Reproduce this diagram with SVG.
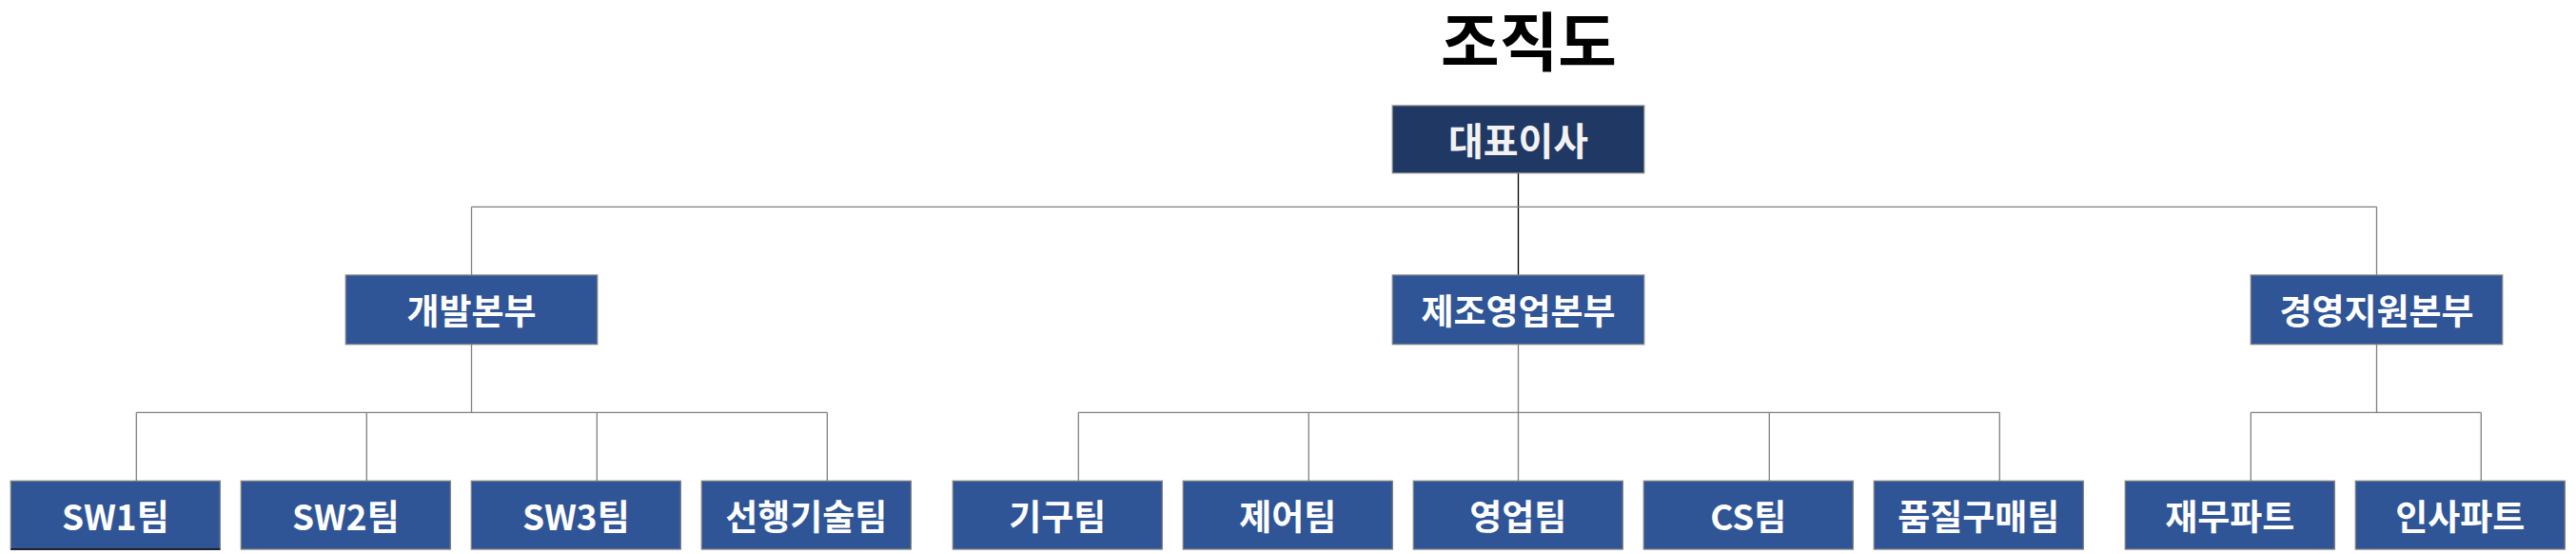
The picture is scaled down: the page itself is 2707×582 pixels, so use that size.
<svg xmlns="http://www.w3.org/2000/svg" width="2707" height="582" viewBox="0 0 2707 582">
<style>
.bg{fill:#ffffff}
.top{fill:#203864;stroke:#7f7f7f;stroke-width:1.3}
.box{fill:#2f5597;stroke:#7f7f7f;stroke-width:1.3}
.t{font-family:"Noto Sans CJK KR","Noto Sans",sans-serif;font-weight:bold;fill:#ffffff;text-anchor:middle;dominant-baseline:central}
.t1{font-size:40px;fill:#f2f2f2}
.t2{font-size:37px}
.t3{font-size:37px}
.title{font-family:"Noto Sans CJK KR","Noto Sans",sans-serif;font-weight:bold;font-size:67px;fill:#000000;text-anchor:middle;dominant-baseline:central}
.c{fill:none;stroke:#808080;stroke-width:1.3}
.ck{fill:none;stroke:#000000;stroke-width:1.3}
</style>
<rect class="bg" x="0" y="0" width="2707" height="582"/>
<text class="title" x="1606.5" y="39">조직도</text>
<g id="connectors">
<path class="ck" d="M1595.5 181.7V289"/>
<path class="c" d="M495.5 217.3H2497.5M495.5 217.3V289M2497.5 217.3V289"/>
<path class="c" d="M495.5 361.7V433.3M143.3 433.3H869.3M143.3 433.3V505.3M385.3 433.3V505.3M627.3 433.3V505.3M869.3 433.3V505.3"/>
<path class="c" d="M1595.5 361.7V505.3M1133.3 433.3H2101.3M1133.3 433.3V505.3M1375.3 433.3V505.3M1859.3 433.3V505.3M2101.3 433.3V505.3"/>
<path class="c" d="M2497.5 361.7V433.3M2365.3 433.3H2607.3M2365.3 433.3V505.3M2607.3 433.3V505.3"/>
</g>
<g id="ceo"><rect class="top" x="1463.3" y="111" width="264.4" height="70.7"/><text class="t t1" x="1595.5" y="146.3">대표이사</text></g>
<g id="dev"><rect class="box" x="363.3" y="289" width="264.4" height="72.7"/><text class="t t2" x="495.5" y="325.3">개발본부</text></g>
<g id="mfg"><rect class="box" x="1463.3" y="289" width="264.4" height="72.7"/><text class="t t2" x="1595.5" y="325.3">제조영업본부</text></g>
<g id="mgmt"><rect class="box" x="2365.3" y="289" width="264.4" height="72.7"/><text class="t t2" x="2497.5" y="325.3">경영지원본부</text></g>
<g id="sw1"><rect class="box" x="11.3" y="505.3" width="220" height="71.7"/><line x1="11.3" y1="577" x2="231.3" y2="577" stroke="#000000" stroke-width="1.6"/><text class="t t3" x="121.3" y="541.2">SW1팀</text></g>
<g id="sw2"><rect class="box" x="253.3" y="505.3" width="220" height="71.7"/><text class="t t3" x="363.3" y="541.2">SW2팀</text></g>
<g id="sw3"><rect class="box" x="495.3" y="505.3" width="220" height="71.7"/><text class="t t3" x="605.3" y="541.2">SW3팀</text></g>
<g id="adv"><rect class="box" x="737.3" y="505.3" width="220" height="71.7"/><text class="t t3" x="847.3" y="541.2">선행기술팀</text></g>
<g id="mech"><rect class="box" x="1001.3" y="505.3" width="220" height="71.7"/><text class="t t3" x="1111.3" y="541.2">기구팀</text></g>
<g id="ctrl"><rect class="box" x="1243.3" y="505.3" width="220" height="71.7"/><text class="t t3" x="1353.3" y="541.2">제어팀</text></g>
<g id="sales"><rect class="box" x="1485.3" y="505.3" width="220" height="71.7"/><text class="t t3" x="1595.3" y="541.2">영업팀</text></g>
<g id="cs"><rect class="box" x="1727.3" y="505.3" width="220" height="71.7"/><text class="t t3" x="1837.3" y="541.2">CS팀</text></g>
<g id="qa"><rect class="box" x="1969.3" y="505.3" width="220" height="71.7"/><text class="t t3" x="2079.3" y="541.2">품질구매팀</text></g>
<g id="fin"><rect class="box" x="2233.3" y="505.3" width="220" height="71.7"/><text class="t t3" x="2343.3" y="541.2">재무파트</text></g>
<g id="hr"><rect class="box" x="2475.3" y="505.3" width="220" height="71.7"/><text class="t t3" x="2585.3" y="541.2">인사파트</text></g>
</svg>
